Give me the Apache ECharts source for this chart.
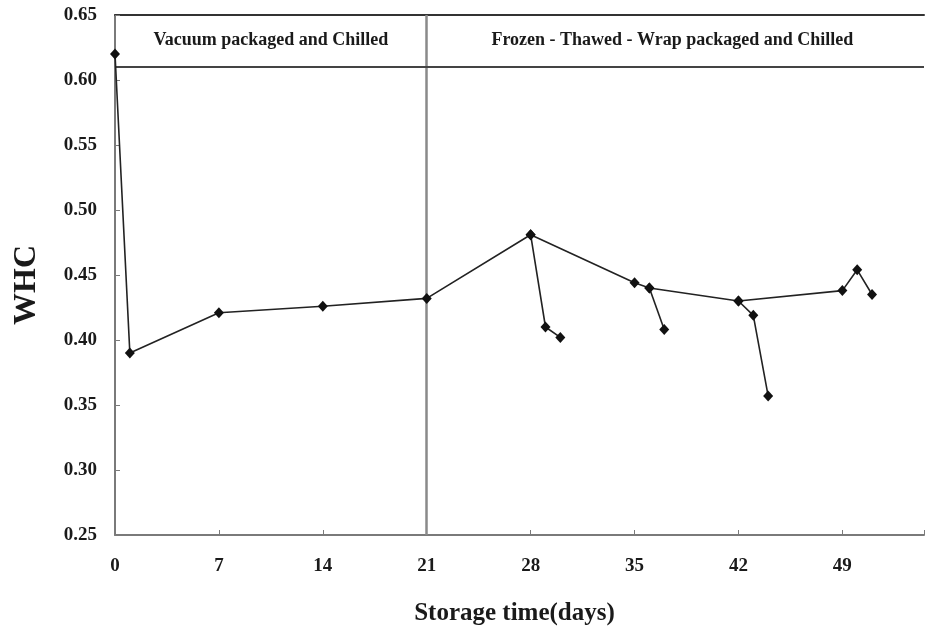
<!DOCTYPE html>
<html>
<head>
<meta charset="utf-8">
<script src="https://cdn.jsdelivr.net/npm/echarts@6/dist/echarts.min.js"></script>
<style>
  html, body { margin: 0; padding: 0; background: #fff; overflow: hidden; }
  #chart { width: 927px; height: 631px; }
</style>
</head>
<body>
<div id="chart"></div>
<script>
// Storage time (days) and water holding capacity readings
const mainDays = [0, 1, 7, 14, 21, 28, 35, 36, 42, 49, 50, 51];
const mainWHC  = [0.620, 0.390, 0.421, 0.426, 0.432, 0.481, 0.444, 0.440, 0.430, 0.438, 0.454, 0.435];

// Thaw branches after each frozen period
const thaw28Days = [28, 29, 30];
const thaw28WHC  = [0.481, 0.410, 0.402];
const thaw36Days = [36, 37];
const thaw36WHC  = [0.440, 0.408];
const thaw42Days = [42, 43, 44];
const thaw42WHC  = [0.430, 0.419, 0.357];

// Storage phases shown in the header band
const phaseNames = ['Vacuum packaged and Chilled', 'Frozen - Thawed - Wrap packaged and Chilled'];
const phaseStart = [0, 21];
const phaseEnd   = [21, 54.1];
const headerBase = 0.611;
const headerTop  = 0.65;

const xTicks = [0, 7, 14, 21, 28, 35, 42, 49];
const xMax = 54.5;

const serif = '"Liberation Serif", "DejaVu Serif", serif';
const ink = '#1a1a1a';

function pairs(xs, ys) { return xs.map((x, i) => [x, ys[i]]); }

function lineSeries(name, xs, ys) {
  return {
    name: name,
    type: 'line',
    data: pairs(xs, ys),
    symbol: 'diamond',
    symbolSize: [10, 11],
    showSymbol: true,
    clip: false,
    z: 5,
    itemStyle: { color: '#111' },
    lineStyle: { color: '#222', width: 1.6 },
    emphasis: { disabled: true }
  };
}

const chart = echarts.init(document.getElementById('chart'), null, { renderer: 'canvas', width: 927, height: 631 });

chart.setOption({
  animation: false,
  backgroundColor: '#fff',
  grid: { left: 115, top: 15, width: 812, height: 520, containLabel: false },
  xAxis: [{
    type: 'value',
    min: 0, max: xMax, interval: 7,
    name: 'Storage time(days)',
    nameLocation: 'middle',
    nameGap: 66,
    nameTextStyle: { fontFamily: serif, fontWeight: 'bold', fontSize: 25, color: ink, padding: [0, 10, 0, 0] },
    axisLine: { show: true, lineStyle: { color: '#7a7a7a', width: 2 } },
    axisTick: { show: true, inside: true, length: 5, lineStyle: { color: '#7a7a7a', width: 1 } },
    axisLabel: {
      margin: 22, fontFamily: serif, fontWeight: 'bold', fontSize: 19, color: ink,
      formatter: v => (xTicks.indexOf(v) >= 0 ? String(v) : '')
    },
    splitLine: { show: false }
  }, {
    type: 'value',
    position: 'top',
    min: 0, max: xMax,
    axisLine: { show: true, lineStyle: { color: '#333', width: 2 } },
    axisTick: { show: false },
    axisLabel: { show: false },
    splitLine: { show: false }
  }],
  yAxis: {
    type: 'value',
    min: 0.25, max: 0.65, interval: 0.05,
    name: 'WHC',
    nameLocation: 'middle',
    nameGap: 72,
    nameRotate: 90,
    nameTextStyle: { fontFamily: serif, fontWeight: 'bold', fontSize: 32, color: ink, padding: [0, 20, 0, 0] },
    axisLine: { show: true, lineStyle: { color: '#7a7a7a', width: 2 } },
    axisTick: { show: true, inside: true, length: 5, lineStyle: { color: '#7a7a7a', width: 1 } },
    axisLabel: {
      margin: 18, fontFamily: serif, fontWeight: 'bold', fontSize: 19, color: ink,
      formatter: v => v.toFixed(2)
    },
    splitLine: { show: false }
  },
  series: [
    {
      name: 'frame',
      type: 'line',
      data: [],
      z: 2,
      silent: true,
      markLine: {
        silent: true,
        symbol: ['none', 'none'],
        label: { show: false },
        data: [
          { xAxis: phaseStart[1], lineStyle: { color: '#8a8a8a', width: 2.5, type: 'solid' } },
          { yAxis: headerBase, lineStyle: { color: '#444', width: 2, type: 'solid' } }
        ]
      },
      markArea: {
        silent: true,
        itemStyle: { color: 'rgba(0,0,0,0)' },
        label: {
          show: true, position: 'inside',
          fontFamily: serif, fontWeight: 'bold', fontSize: 18, color: ink
        },
        data: phaseNames.map((n, i) => [
          { name: n, coord: [phaseStart[i], headerBase] },
          { coord: [phaseEnd[i], headerTop] }
        ])
      }
    },
    lineSeries('main', mainDays, mainWHC),
    lineSeries('thaw28', thaw28Days, thaw28WHC),
    lineSeries('thaw36', thaw36Days, thaw36WHC),
    lineSeries('thaw42', thaw42Days, thaw42WHC)
  ]
});
</script>
</body>
</html>
